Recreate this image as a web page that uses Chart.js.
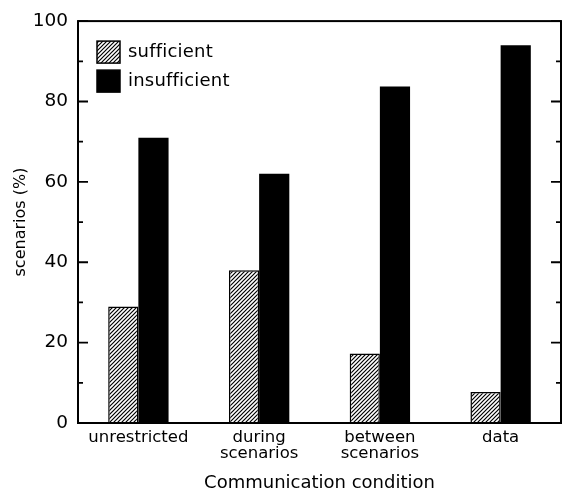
<!DOCTYPE html>
<html>
<head>
<meta charset="utf-8">
<script src="https://cdn.jsdelivr.net/npm/chart.js@4"></script>
<style>
    html, body { margin: 0; padding: 0; background: #fff; }
    #wrap { width: 563px; height: 492px; }
</style>
</head>
<body>
<div id="wrap"><canvas id="chart" width="563" height="492"></canvas></div>
<script>
const categories = ["unrestricted", ["during", "scenarios"], ["between", "scenarios"], "data"];
const sufficient = [29, 38, 17.3, 7.7];
const insufficient = [71, 62, 83.7, 94];
const seriesNames = ["sufficient", "insufficient"];

const FONT = "'DejaVu Sans', sans-serif";

// diagonal hatch for the "sufficient" bars
const makeHatch = () => {
    const tile = document.createElement("canvas");
    tile.width = 4;
    tile.height = 4;
    const c = tile.getContext("2d");
    c.fillStyle = "#fff";
    c.fillRect(0, 0, 4, 4);
    c.strokeStyle = "#000";
    c.lineWidth = 1.2;
    c.beginPath();
    c.moveTo(-1, 5); c.lineTo(5, -1);
    c.moveTo(-1, 1); c.lineTo(1, -1);
    c.moveTo(3, 5); c.lineTo(5, 3);
    c.stroke();
    return c.createPattern(tile, "repeat");
};

const frameAndTicks = {
    id: "frameAndTicks",
    afterDraw(chart) {
        const { ctx, chartArea: a } = chart;
        const y = chart.scales.y;
        ctx.save();
        ctx.strokeStyle = "#000";
        ctx.lineWidth = 2;
        ctx.strokeRect(a.left, a.top, a.right - a.left, a.bottom - a.top);
        ctx.lineWidth = 1.8;
        y.ticks.forEach((t) => {
            const py = y.getPixelForValue(t.value);
            const len = t.value % 20 === 0 ? 10 : 5;
            ctx.beginPath();
            ctx.moveTo(a.left, py); ctx.lineTo(a.left + len, py);
            ctx.moveTo(a.right, py); ctx.lineTo(a.right - len, py);
            ctx.stroke();
        });

        // legend inside the plot, top left
        ctx.font = "18px " + FONT;
        ctx.letterSpacing = "0.2px";
        ctx.textBaseline = "middle";
        chart.data.datasets.forEach((ds, i) => {
            const bx = a.left + 19;
            const by = a.top + 20 + i * 29;
            ctx.fillStyle = ds.backgroundColor;
            ctx.fillRect(bx, by, 23, 22);
            ctx.lineWidth = 1.5;
            ctx.strokeRect(bx, by, 23, 22);
            ctx.fillStyle = "#000";
            ctx.fillText(ds.label, bx + 31, by + 11);
        });
        ctx.restore();
    },
};

const hatch = makeHatch();

new Chart(document.getElementById("chart"), {
    type: "bar",
    data: {
        labels: categories,
        datasets: [
            {
                label: seriesNames[0],
                data: sufficient,
                backgroundColor: hatch,
                borderColor: "#000",
                borderWidth: 1.5,
            },
            {
                label: seriesNames[1],
                data: insufficient,
                backgroundColor: "#000",
                borderColor: "#000",
                borderWidth: 0,
            },
        ],
    },
    options: {
        responsive: false,
        animation: false,
        devicePixelRatio: 1,
        layout: { padding: { top: 19, right: 2, left: 0, bottom: 0 } },
        datasets: { bar: { categoryPercentage: 0.5, barPercentage: 1.0 } },
        plugins: {
            legend: { display: false },
            tooltip: { enabled: false },
        },
        scales: {
            x: {
                grid: { display: false, drawTicks: false },
                border: { display: false },
                ticks: {
                    color: "#000",
                    font: { family: FONT, size: 16.5, lineHeight: 1.0 },
                    padding: 6,
                    maxRotation: 0,
                },
                title: {
                    display: true,
                    text: "Communication condition",
                    color: "#000",
                    font: { family: FONT, size: 18, lineHeight: 1.0 },
                    padding: { top: 0, bottom: 0 },
                },
                afterFit(scale) { scale.height = 69; },
            },
            y: {
                min: 0,
                max: 100,
                grid: { display: false, drawTicks: false },
                border: { display: false },
                ticks: {
                    stepSize: 10,
                    color: "#000",
                    font: { family: FONT, size: 18.5 },
                    padding: 10,
                    callback: (v) => (v % 20 === 0 ? v : ""),
                },
                title: {
                    display: true,
                    text: "scenarios (%)",
                    color: "#000",
                    font: { family: FONT, size: 16 },
                    padding: { top: 11, bottom: 0 },
                },
                afterFit(scale) { scale.width = 78; },
            },
        },
    },
    plugins: [frameAndTicks],
});
</script>
</body>
</html>
